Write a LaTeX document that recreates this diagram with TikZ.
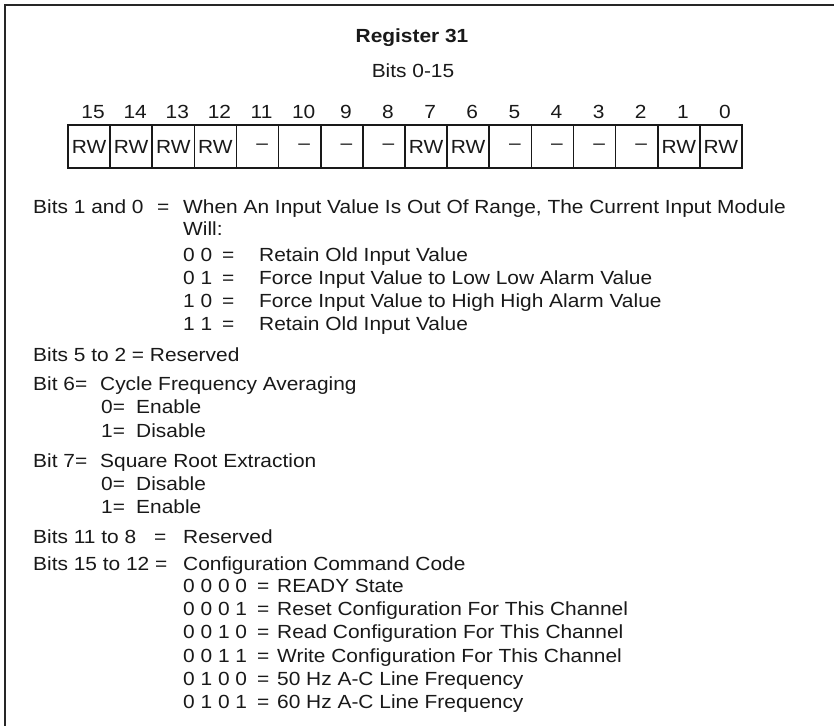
\documentclass[tikz,border=0pt]{standalone}
\usepackage{fontspec}
\setmainfont{Liberation Sans}[FakeStretch=1.1]
\newcommand\rwtxt{RW}
\newcommand\ndtxt{\hspace*{9pt}\textendash}
\begin{document}
\begin{tikzpicture}[x=1pt,y=-1pt,
  txt/.style={anchor=base west, inner sep=0pt, font=\fontsize{19}{23}\selectfont, text=black!90},
  ctr/.style={anchor=base, inner sep=0pt, font=\fontsize{19}{23}\selectfont, text=black!90},
  cell/.style={draw=black!90, line width=1.6pt, minimum width=42.125pt, minimum height=43pt,
    inner sep=0pt, font=\fontsize{19}{23}\selectfont, text=black!90},
  frame/.style={draw=black!85, line width=2.4pt}]
\useasboundingbox (0,0) rectangle (834,726);
\fill[white] (0,0) rectangle (834,726);
% frame
\coordinate (ftr) at (834,5);
\coordinate (ftl) at (5,5);
\coordinate (fbl) at (5,726);
\draw[frame] (ftr) -- (ftl) -- (fbl);
% titles
\node[ctr, font=\fontsize{19}{23}\selectfont\bfseries] (title) at (412,42) {Register 31};
\node[ctr] (bits) at (413,77) {Bits 0-15};
% register cells
\foreach \b/\t [count=\i from 0] in {15/\rwtxt,14/\rwtxt,13/\rwtxt,12/\rwtxt,11/\ndtxt,10/\ndtxt,9/\ndtxt,8/\ndtxt,7/\rwtxt,6/\rwtxt,5/\ndtxt,4/\ndtxt,3/\ndtxt,2/\ndtxt,1/\rwtxt,0/\rwtxt}{
  \node[cell] (c\b) at ({68+(\i+0.5)*42.125},146.5) {\t};
  \node[ctr] (n\b) at ({68+(\i+0.5)*42.125+4},118) {\b};
}
% Bits 1 and 0
\node[txt] (a1) at (33,213) {Bits 1 and 0};
\node[txt] (a2) at (157,213) {=};
\node[txt] (a3) at (183,213) {When An Input Value Is Out Of Range, The Current Input Module};
\node[txt] (a4) at (183,235) {Will:};
\node[txt] (b1) at (183,261) {0 0};
\node[txt] (b1e) at (222,261) {=};
\node[txt] (b1t) at (259,261) {Retain Old Input Value};
\node[txt] (b2) at (183,284) {0 1};
\node[txt] (b2e) at (222,284) {=};
\node[txt] (b2t) at (259,284) {Force Input Value to Low Low Alarm Value};
\node[txt] (b3) at (183,307) {1 0};
\node[txt] (b3e) at (222,307) {=};
\node[txt] (b3t) at (259,307) {Force Input Value to High High Alarm Value};
\node[txt] (b4) at (183,330) {1 1};
\node[txt] (b4e) at (222,330) {=};
\node[txt] (b4t) at (259,330) {Retain Old Input Value};
% Bits 5 to 2
\node[txt] (r1) at (33,361) {Bits 5 to 2 = Reserved};
% Bit 6
\node[txt] (s1) at (33,390) {Bit 6=};
\node[txt] (s1t) at (100,390) {Cycle Frequency Averaging};
\node[txt] (s2) at (101,413) {0=};
\node[txt] (s2t) at (136,413) {Enable};
\node[txt] (s3) at (101,437) {1=};
\node[txt] (s3t) at (136,437) {Disable};
% Bit 7
\node[txt] (q1) at (33,467) {Bit 7=};
\node[txt] (q1t) at (100,467) {Square Root Extraction};
\node[txt] (q2) at (101,490) {0=};
\node[txt] (q2t) at (136,490) {Disable};
\node[txt] (q3) at (101,513) {1=};
\node[txt] (q3t) at (136,513) {Enable};
% Bits 11 to 8
\node[txt] (p1) at (33,543) {Bits 11 to 8};
\node[txt] (p1e) at (154,543) {=};
\node[txt] (p1t) at (183,543) {Reserved};
% Bits 15 to 12
\node[txt] (k1) at (33,570) {Bits 15 to 12 =};
\node[txt] (k1t) at (183,570) {Configuration Command Code};
\node[txt] (k2) at (183,592) {0 0 0 0};
\node[txt] (k2e) at (257,592) {=};
\node[txt] (k2t) at (277,592) {READY State};
\node[txt] (k3) at (183,615) {0 0 0 1};
\node[txt] (k3e) at (257,615) {=};
\node[txt] (k3t) at (277,615) {Reset Configuration For This Channel};
\node[txt] (k4) at (183,638) {0 0 1 0};
\node[txt] (k4e) at (257,638) {=};
\node[txt] (k4t) at (277,638) {Read Configuration For This Channel};
\node[txt] (k5) at (183,662) {0 0 1 1};
\node[txt] (k5e) at (257,662) {=};
\node[txt] (k5t) at (277,662) {Write Configuration For This Channel};
\node[txt] (k6) at (183,685) {0 1 0 0};
\node[txt] (k6e) at (257,685) {=};
\node[txt] (k6t) at (277,685) {50 Hz A-C Line Frequency};
\node[txt] (k7) at (183,708) {0 1 0 1};
\node[txt] (k7e) at (257,708) {=};
\node[txt] (k7t) at (277,708) {60 Hz A-C Line Frequency};
\end{tikzpicture}
\end{document}
